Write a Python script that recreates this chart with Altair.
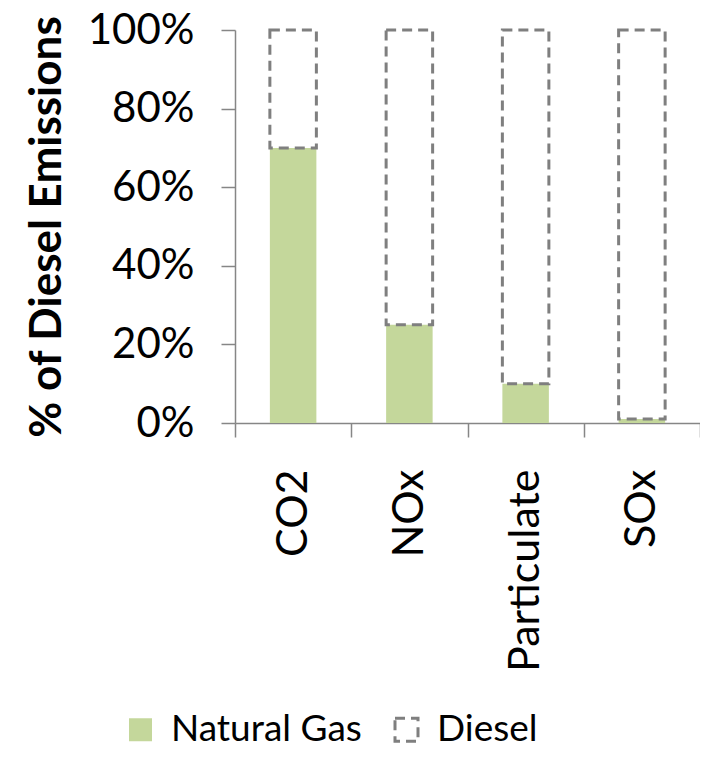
import altair as alt
import pandas as pd

categories = ["CO2", "NOx", "Particulate", "SOx"]
natural_gas = [0.70, 0.25, 0.10, 0.01]
diesel = [1.00, 1.00, 1.00, 1.00]
series = ["Natural Gas", "Diesel"]
y_ticks = [0, 0.2, 0.4, 0.6, 0.8, 1.0]

rows = []
for c, ng, d in zip(categories, natural_gas, diesel):
    rows.append({"cat": c, "series": "Natural Gas", "lo": 0.0, "hi": ng})
    rows.append({"cat": c, "series": "Diesel", "lo": ng, "hi": d})
df = pd.DataFrame(rows)

FONT = "Lato"
AXC = "#868686"

x = alt.X(
    "cat:N",
    sort=categories,
    scale=alt.Scale(paddingInner=0, paddingOuter=0),
    axis=alt.Axis(
        title=None, labelAngle=270, labelAlign="right", labelBaseline="middle",
        labelFontSize=43, labelFont=FONT, labelColor="black", labelPadding=32,
        labelLimit=1000,
        tickSize=14, tickBand="extent", domainColor=AXC, tickColor=AXC,
        domainWidth=1.5, tickWidth=1.5, grid=False,
    ),
)
y = alt.Y(
    "lo:Q",
    scale=alt.Scale(domain=[0, 1], nice=False),
    axis=alt.Axis(
        title="% of Diesel Emissions", titleFont=FONT, titleFontSize=44,
        titleFontWeight="bold", titleColor="black", titlePadding=18,
        titleLimit=2000,
        values=y_ticks, format=".0%", labelFontSize=42, labelFont=FONT,
        labelColor="black", labelPadding=27, tickSize=14, domainColor=AXC,
        tickColor=AXC, domainWidth=1.5, tickWidth=1.5, grid=False,
    ),
)

chart = (
    alt.Chart(df)
    .mark_bar(width=alt.RelativeBandSize(0.4))
    .encode(
        x=x,
        y=y,
        y2="hi:Q",
        fill=alt.Fill("series:N", scale=alt.Scale(domain=series, range=["#c4d79b", "transparent"]),
                      legend=alt.Legend(title=None)),
        stroke=alt.Stroke("series:N", scale=alt.Scale(domain=series, range=["#c4d79b", "#7f7f7f"]),
                          legend=alt.Legend(title=None)),
        strokeDash=alt.StrokeDash("series:N", scale=alt.Scale(domain=series, range=[[1, 0], [10, 6]]),
                                  legend=alt.Legend(title=None)),
        strokeWidth=alt.StrokeWidth("series:N", scale=alt.Scale(domain=series, range=[0, 3]), legend=None),
    )
    .properties(
        width=465, height=393,
        autosize=alt.AutoSizeParams(type="none"),
        padding={"left": 227, "top": 22, "right": 0, "bottom": 326},
    )
    .configure_view(stroke=None)
    .configure_legend(
        orient="none", legendX=-113, legendY=681, direction="horizontal",
        symbolType="square", symbolSize=529, symbolStrokeWidth=1.5,
        labelFont=FONT, labelFontSize=37, labelColor="black", labelOffset=12,
        labelLimit=1000, columnPadding=26,
    )
)

chart.save("out.html", embed_options={"renderer": "svg", "actions": False})
